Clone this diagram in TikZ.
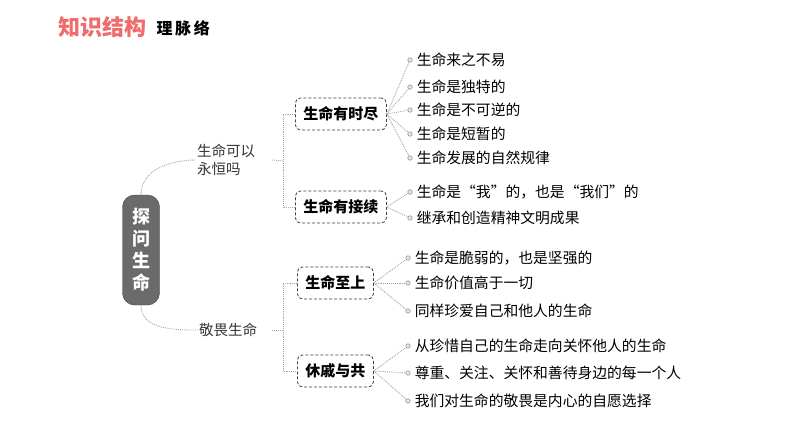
\documentclass[tikz,border=0pt]{standalone}
\usepackage{fontspec}
\setmainfont{Noto Sans CJK SC}
\usepackage{tikz}
\usetikzlibrary{positioning}
\definecolor{titlered}{RGB}{240,108,108}

\begin{document}
\begin{tikzpicture}[
    x=1pt, y=-1pt,
    link/.style={draw=gray!70, densely dotted, line width=0.9pt},
    card/.style={draw=black!75, densely dashed, rounded corners=5pt, line width=0.8pt, fill=white, inner xsep=8pt, minimum height=32pt, font=\fontsize{15}{18}\selectfont\bfseries},
    branch/.style={align=left, inner sep=1pt, text=black!80, font=\fontsize{14.5}{18}\selectfont},
    dot/.style={circle, draw=gray!80, fill=gray!20, line width=0.6pt, inner sep=1.6pt},
    leaf/.style={anchor=west, inner sep=1pt, font=\fontsize{14.8}{17}\selectfont}
]
    \useasboundingbox (0,0) rectangle (794,447);

    % 标题
    \node[anchor=west, text=titlered, font=\fontsize{22}{25}\selectfont\bfseries] (title) at (55,27) {知识结构};
    \node[anchor=west, font=\fontsize{16}{19}\selectfont\bfseries] (subtitle) at (153,28) {理\,脉\,络};

    % 中心主题
    \node[draw=black!75, fill=black!58, rounded corners=12pt, minimum width=37pt, minimum height=110pt, align=center, text=white, font=\fontsize{18}{22}\selectfont\bfseries] (root) at (141,250) {探\\问\\生\\命};

    % 两个分支
    \node[branch, anchor=west] (forever) at (196,160) {生命可以\\永恒吗};
    \node[branch, anchor=west] (awe) at (198,330) {敬畏生命};
    \draw[link] (root.north) to[out=90, in=180] (forever.west);
    \draw[link] (root.south) to[out=-90, in=180] (awe.west);

    % 第二层方框
    \node[card, anchor=west] (finite) at (295,114) {生命有时尽};
    \node[card, anchor=west] (continue) at (295,207) {生命有接续};
    \node[card, anchor=west] (supreme) at (297,283) {生命至上};
    \node[card, anchor=west] (share) at (297,371) {休戚与共};

    % 括号
    \coordinate (brace1) at (283,161);
    \coordinate (brace2) at (283,330);
    \draw[link] (finite.west) -| (brace1) |- (continue.west);
    \draw[link] (forever.east) ++(16,0) -- (brace1);
    \draw[link] (supreme.west) -| (brace2) |- (share.west);
    \draw[link] (awe.east) ++(14,0) -- (brace2);

    % 生命有时尽
    \node[dot] (d1) at (410,60) {};
    \node[dot] (d2) at (410,87) {};
    \node[dot] (d3) at (410,110) {};
    \node[dot] (d4) at (410,134) {};
    \node[dot] (d5) at (410,158) {};
    \node[leaf, right=3pt of d1] (l1) {生命来之不易};
    \node[leaf, right=3pt of d2] (l2) {生命是独特的};
    \node[leaf, right=3pt of d3] (l3) {生命是不可逆的};
    \node[leaf, right=3pt of d4] (l4) {生命是短暂的};
    \node[leaf, right=3pt of d5] (l5) {生命发展的自然规律};
    \foreach \d in {d1,d2,d3,d4,d5}
        \draw[link] (finite.east) -- (\d);

    % 生命有接续
    \node[dot] (d6) at (410,192) {};
    \node[dot] (d7) at (410,218) {};
    \node[leaf, right=3pt of d6] (l6) {生命是“我”的，也是“我们”的};
    \node[leaf, right=3pt of d7] (l7) {继承和创造精神文明成果};
    \foreach \d in {d6,d7}
        \draw[link] (continue.east) -- (\d);

    % 生命至上
    \node[dot] (d8) at (408,258) {};
    \node[dot] (d9) at (408,283) {};
    \node[dot] (d10) at (408,311) {};
    \node[leaf, right=3pt of d8] (l8) {生命是脆弱的，也是坚强的};
    \node[leaf, right=3pt of d9] (l9) {生命价值高于一切};
    \node[leaf, right=3pt of d10] (l10) {同样珍爱自己和他人的生命};
    \foreach \d in {d8,d9,d10}
        \draw[link] (supreme.east) -- (\d);

    % 休戚与共
    \node[dot] (d11) at (408,346) {};
    \node[dot] (d12) at (408,373) {};
    \node[dot] (d13) at (408,401) {};
    \node[leaf, right=3pt of d11] (l11) {从珍惜自己的生命走向关怀他人的生命};
    \node[leaf, right=3pt of d12] (l12) {尊重、关注、关怀和善待身边的每一个人};
    \node[leaf, right=3pt of d13] (l13) {我们对生命的敬畏是内心的自愿选择};
    \foreach \d in {d11,d12,d13}
        \draw[link] (share.east) -- (\d);
\end{tikzpicture}
\end{document}
